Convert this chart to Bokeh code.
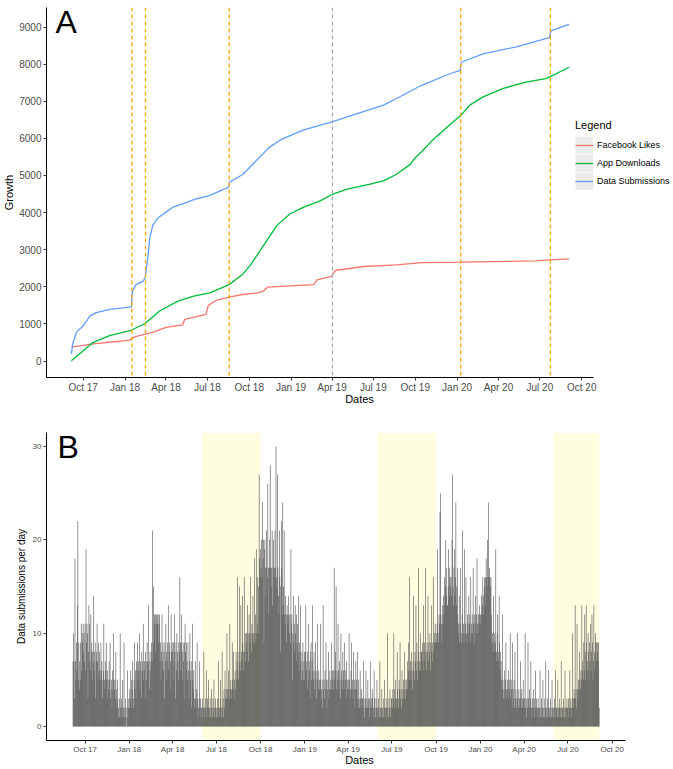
import pandas as pd
from bokeh.plotting import figure
from bokeh.models import (Range1d, FixedTicker, DatetimeTickFormatter, Span,
                          BoxAnnotation, Label, Legend, LegendItem, ColumnDataSource)
from bokeh.layouts import column
from bokeh.embed import file_html
from bokeh.resources import INLINE

FONT = "Liberation Sans"

# ---------------- Panel A : cumulative growth ----------------
fb_dates = ["2017-09-05", "2017-10-23", "2017-12-20", "2018-01-12", "2018-01-20",
            "2018-02-01", "2018-03-03", "2018-04-01", "2018-05-08", "2018-05-12",
            "2018-06-28", "2018-07-03", "2018-07-20", "2018-08-18", "2018-09-16",
            "2018-10-19", "2018-11-01", "2018-11-10", "2019-02-20", "2019-02-27",
            "2019-03-31", "2019-04-08", "2019-06-09", "2019-08-21", "2019-10-15",
            "2020-01-09", "2020-06-22", "2020-07-24", "2020-09-03"]
fb_likes = [373, 461, 533, 568, 640, 684, 772, 905, 977, 1120, 1260, 1500, 1633,
            1723, 1793, 1837, 1880, 1990, 2059, 2190, 2280, 2440, 2548, 2591, 2650,
            2663, 2698, 2724, 2751]

app_dates = ["2017-09-05", "2017-10-23", "2017-11-28", "2018-01-12", "2018-02-14",
             "2018-03-18", "2018-04-27", "2018-06-01", "2018-07-06", "2018-08-18",
             "2018-09-16", "2018-10-04", "2018-11-02", "2018-12-01", "2018-12-30",
             "2019-01-29", "2019-03-07", "2019-04-03", "2019-05-04", "2019-06-24",
             "2019-07-23", "2019-08-21", "2019-09-20", "2019-10-01", "2019-10-15",
             "2019-11-09", "2019-12-16", "2020-01-10", "2020-01-29", "2020-02-27",
             "2020-04-10", "2020-05-31", "2020-07-14", "2020-07-25", "2020-09-03"]
app_downloads = [10, 506, 684, 817, 1012, 1350, 1616, 1749, 1837, 2059, 2330, 2591,
                 3124, 3656, 3968, 4146, 4322, 4500, 4634, 4767, 4855, 5033, 5300,
                 5480, 5640, 5965, 6365, 6631, 6897, 7118, 7342, 7518, 7608, 7670, 7917]

sub_dates = ["2017-09-05", "2017-09-08", "2017-09-16", "2017-10-01", "2017-10-16",
             "2017-10-30", "2017-11-28", "2018-01-15", "2018-01-17", "2018-01-25",
             "2018-02-09", "2018-02-14", "2018-02-20", "2018-02-24", "2018-03-03",
             "2018-03-14", "2018-04-01", "2018-04-16", "2018-05-08", "2018-06-06",
             "2018-07-05", "2018-08-16", "2018-08-19", "2018-09-16", "2018-10-12",
             "2018-11-13", "2018-12-09", "2019-01-29", "2019-04-03", "2019-05-18",
             "2019-07-23", "2019-08-21", "2019-10-15", "2019-12-16", "2020-01-08",
             "2020-01-10", "2020-02-27", "2020-05-10", "2020-07-22", "2020-07-25",
             "2020-09-03"]
sub_total = [195, 460, 772, 950, 1217, 1305, 1393, 1457, 1883, 2060, 2148, 2237,
             2770, 3300, 3656, 3853, 4013, 4146, 4234, 4367, 4455, 4679, 4828, 5020,
             5345, 5744, 5965, 6231, 6453, 6631, 6897, 7075, 7430, 7741, 7829, 8051,
             8274, 8468, 8716, 8894, 9073]

event_dates = ["2018-01-16", "2018-02-15", "2018-08-18", "2020-01-09", "2020-07-24"]
review_dates = ["2019-04-02"]

quarter_ticks = ["2017-10-01", "2018-01-01", "2018-04-01", "2018-07-01", "2018-10-01",
                 "2019-01-01", "2019-04-01", "2019-07-01", "2019-10-01", "2020-01-01",
                 "2020-04-01", "2020-07-01", "2020-10-01"]
growth_ticks = [0, 1000, 2000, 3000, 4000, 5000, 6000, 7000, 8000, 9000]
series_names = ["Facebook Likes", "App Downloads", "Data Submissions"]
series_colors = ["#F8766D", "#00BA38", "#619CFF"]

# ---------------- Panel B : daily submissions ----------------
sep17 = [7, 10, 7, 3, 18, 7, 5, 9, 6, 13, 22, 5, 9, 4, 7, 5, 9, 11, 6, 10, 9, 11, 8, 10, 7]
oct17 = [11, 6, 19, 9, 11, 10, 3, 8, 13, 11, 7, 6, 12, 8, 9, 5, 8, 7, 14, 8, 6, 9, 3, 7, 8, 11, 7, 5, 9, 6, 8]
nov17 = [6, 5, 9, 6, 7, 3, 5, 6, 11, 5, 4, 7, 6, 9, 5, 3, 6, 5, 4, 7, 5, 9, 3, 4, 5, 2, 6, 4, 10, 5]
dec17 = [4, 5, 3, 8, 4, 2, 5, 3, 1, 2, 3, 1, 10, 2, 1, 3, 2, 5, 1, 2, 9, 1, 2, 3, 1, 0, 2, 6, 1, 2, 3]
jan18 = [2, 4, 3, 6, 2, 5, 4, 7, 3, 2, 5, 9, 4, 6, 3, 7, 6, 9, 5, 7, 6, 10, 4, 7, 6, 3, 8, 6, 7, 11, 5]
feb18 = [6, 7, 3, 8, 7, 5, 9, 7, 6, 13, 7, 4, 8, 6, 7, 9, 8, 21, 7, 15, 9, 12, 11, 12, 8, 12, 11, 12]
mar18 = [11, 12, 9, 11, 12, 7, 9, 5, 8, 12, 7, 9, 6, 8, 3, 9, 7, 11, 8, 5, 9, 7, 13, 6, 8, 9, 4, 7, 12, 8, 9]
apr18 = [8, 5, 9, 7, 12, 8, 3, 9, 6, 10, 8, 7, 5, 9, 8, 16, 9, 6, 9, 12, 8, 5, 9, 7, 3, 9, 11, 8, 6, 9]
may18 = [7, 5, 9, 6, 3, 7, 10, 5, 6, 2, 7, 11, 5, 4, 6, 3, 2, 7, 3, 2, 4, 9, 3, 1, 2, 3, 7, 2, 3, 1, 2]
jun18 = [2, 3, 1, 2, 8, 2, 1, 3, 2, 6, 1, 2, 3, 2, 5, 1, 2, 3, 1, 2, 4, 2, 1, 3, 2, 5, 1, 2, 3, 2]
jul18 = [1, 2, 3, 1, 7, 2, 1, 2, 3, 5, 2, 1, 8, 2, 3, 1, 4, 2, 6, 3, 4, 3, 10, 4, 3, 6, 4, 3, 11, 4, 5]
aug18 = [4, 3, 9, 5, 4, 8, 3, 5, 6, 4, 8, 5, 7, 16, 6, 5, 8, 15, 7, 6, 13, 8, 7, 14, 9, 6, 8, 16, 8, 10, 7]
sep18 = [9, 10, 8, 13, 10, 7, 12, 10, 9, 16, 10, 8, 11, 10, 14, 9, 10, 18, 10, 12, 9, 19, 10, 11, 16, 10, 15, 27, 18, 16]
oct18 = [19, 17, 20, 16, 24, 18, 20, 9, 19, 20, 17, 14, 21, 17, 16, 26, 17, 12, 17, 20, 28, 17, 15, 17, 21, 13, 17, 20, 16, 17, 21]
nov18 = [17, 30, 16, 15, 27, 17, 14, 12, 21, 16, 8, 15, 22, 17, 12, 24, 13, 15, 21, 12, 11, 14, 12, 9, 13, 12, 11, 14, 12, 10]
dec18 = [12, 9, 19, 11, 12, 5, 10, 14, 9, 11, 8, 13, 10, 7, 12, 9, 11, 8, 14, 6, 9, 8, 13, 7, 5, 8, 6, 9, 5, 7, 8]
jan19 = [5, 8, 13, 6, 7, 4, 8, 5, 11, 7, 6, 3, 8, 9, 5, 7, 13, 6, 5, 8, 4, 6, 9, 5, 3, 6, 11, 5, 4, 6, 5]
feb19 = [4, 5, 11, 3, 4, 5, 2, 13, 4, 5, 3, 6, 4, 9, 5, 2, 4, 5, 8, 3, 4, 6, 4, 5, 9, 4, 6, 5]
mar19 = [6, 4, 17, 5, 6, 8, 15, 4, 6, 5, 11, 6, 4, 7, 5, 3, 10, 6, 5, 4, 8, 6, 5, 9, 4, 6, 5, 3, 7, 5, 4]
apr19 = [5, 4, 10, 5, 3, 4, 6, 9, 4, 5, 3, 8, 4, 5, 2, 4, 7, 5, 4, 8, 3, 2, 5, 3, 2, 6, 3, 2, 4, 3]
may19 = [3, 2, 7, 3, 1, 2, 3, 6, 2, 3, 2, 5, 3, 2, 1, 3, 7, 2, 3, 2, 4, 3, 1, 2, 6, 3, 2, 1, 3, 2, 5]
jun19 = [2, 1, 3, 2, 1, 7, 2, 1, 2, 4, 1, 2, 3, 1, 2, 5, 1, 2, 3, 2, 1, 10, 2, 1, 3, 2, 4, 1, 2, 3]
jul19 = [3, 2, 4, 3, 10, 2, 4, 3, 5, 2, 3, 8, 4, 3, 2, 5, 4, 9, 3, 4, 2, 6, 3, 4, 5, 3, 8, 4, 3, 5, 4]
aug19 = [5, 7, 4, 6, 9, 5, 16, 6, 7, 5, 8, 6, 4, 7, 14, 6, 5, 8, 7, 13, 6, 9, 5, 7, 17, 8, 6, 7, 10, 6, 8]
sep19 = [8, 7, 9, 6, 13, 8, 9, 7, 17, 8, 6, 9, 8, 14, 7, 9, 8, 10, 6, 9, 13, 8, 7, 9, 16, 8, 10, 9, 11, 9]
oct19 = [10, 9, 11, 19, 10, 9, 12, 11, 23, 25, 12, 11, 9, 13, 11, 14, 12, 16, 13, 15, 20, 14, 17, 13, 13, 15, 19, 14, 17, 16, 15]
nov19 = [16, 14, 20, 27, 15, 13, 17, 19, 14, 16, 24, 13, 15, 17, 12, 11, 10, 14, 9, 11, 17, 10, 9, 12, 21, 10, 11, 9, 19, 10]
dec19 = [11, 16, 10, 9, 12, 11, 10, 14, 11, 12, 9, 16, 10, 11, 12, 10, 17, 11, 9, 12, 11, 14, 10, 12, 18, 11, 10, 12, 11, 13, 12]
jan20 = [12, 11, 14, 12, 13, 16, 12, 14, 15, 16, 13, 16, 18, 16, 15, 20, 16, 24, 16, 17, 16, 15, 16, 12, 9, 10, 8, 14, 9, 10, 8]
feb20 = [9, 19, 8, 7, 10, 12, 8, 7, 14, 9, 6, 8, 7, 5, 4, 12, 5, 3, 4, 6, 3, 5, 9, 4, 3, 5, 4, 6, 3]
mar20 = [5, 4, 10, 3, 5, 4, 2, 9, 4, 3, 5, 2, 8, 3, 4, 2, 3, 10, 3, 2, 4, 3, 2, 7, 3, 2, 4, 3, 2, 5, 3]
apr20 = [2, 3, 10, 2, 3, 1, 3, 2, 9, 3, 2, 4, 2, 3, 7, 2, 1, 3, 2, 4, 2, 3, 1, 2, 6, 2, 3, 1, 2, 3]
may20 = [2, 1, 2, 6, 1, 2, 3, 1, 2, 5, 1, 2, 1, 3, 2, 7, 1, 2, 3, 1, 2, 6, 1, 2, 1, 3, 2, 1, 5, 2, 1]
jun20 = [2, 1, 3, 2, 6, 1, 2, 2, 1, 5, 2, 1, 2, 3, 1, 2, 7, 1, 2, 2, 1, 3, 2, 1, 6, 2, 1, 2, 3, 2]
jul20 = [2, 3, 1, 2, 6, 2, 3, 2, 1, 3, 10, 3, 2, 4, 3, 13, 3, 4, 2, 11, 4, 3, 5, 4, 8, 5, 4, 6, 5, 13, 6]
aug20 = [7, 5, 9, 6, 12, 8, 5, 13, 9, 7, 6, 10, 8, 5, 9, 7, 11, 6, 8, 12, 9, 5, 7, 13, 8, 6, 10, 9, 7, 9, 8]
sep20 = [9, 7, 9, 2]

month_starts = ["2017-09-06", "2017-10-01", "2017-11-01", "2017-12-01", "2018-01-01",
                "2018-02-01", "2018-03-01", "2018-04-01", "2018-05-01", "2018-06-01",
                "2018-07-01", "2018-08-01", "2018-09-01", "2018-10-01", "2018-11-01",
                "2018-12-01", "2019-01-01", "2019-02-01", "2019-03-01", "2019-04-01",
                "2019-05-01", "2019-06-01", "2019-07-01", "2019-08-01", "2019-09-01",
                "2019-10-01", "2019-11-01", "2019-12-01", "2020-01-01", "2020-02-01",
                "2020-03-01", "2020-04-01", "2020-05-01", "2020-06-01", "2020-07-01",
                "2020-08-01", "2020-09-01"]
month_blocks = [sep17, oct17, nov17, dec17, jan18, feb18, mar18, apr18, may18, jun18,
                jul18, aug18, sep18, oct18, nov18, dec18, jan19, feb19, mar19, apr19,
                may19, jun19, jul19, aug19, sep19, oct19, nov19, dec19, jan20, feb20,
                mar20, apr20, may20, jun20, jul20, aug20, sep20]

summer_starts = ["2018-06-01", "2019-06-01", "2020-06-01"]
summer_ends = ["2018-10-01", "2019-10-01", "2020-09-04 12:00"]
per_day_ticks = [0, 10, 20, 30]


def ms(d):
    return pd.Timestamp(d).timestamp() * 1000.0


DAY = 86400000.0
W = 672
FRAME_LEFT = 43                  # both frames share the same left/right edges
FRAME_W = W - FRAME_LEFT         # frames reach the page edge; axes are bounded


def style_axes(p, tick_size, ylabel, ylabel_size, ylabel_standoff):
    for ax in (p.xaxis[0], p.yaxis[0]):
        ax.axis_line_color = "black"
        ax.axis_line_width = 1
        ax.major_tick_line_color = "#333333"
        ax.major_tick_out = 3
        ax.major_tick_in = 0
        ax.minor_tick_out = 0
        ax.minor_tick_in = 0
        ax.major_label_text_font = FONT
        ax.major_label_text_font_size = tick_size
        ax.major_label_text_color = "#4D4D4D"
        ax.major_label_standoff = 2
        ax.axis_label_text_font = FONT
        ax.axis_label_text_font_style = "normal"
        ax.axis_label_text_color = "black"
    p.xaxis.axis_label = "Dates"
    p.xaxis.axis_label_text_font_size = "11px"
    p.xaxis.axis_label_standoff = -3
    p.xaxis.major_label_standoff = 1
    p.yaxis.axis_label = ylabel
    p.yaxis.axis_label_text_font_size = ylabel_size
    p.yaxis.axis_label_standoff = ylabel_standoff
    p.xgrid.visible = False
    p.ygrid.visible = False
    p.outline_line_color = None
    p.xaxis.formatter = DatetimeTickFormatter(
        days="%b %y", months="%b %y", years="%b %y", hours="%b %y",
        minutes="%b %y", seconds="%b %y", milliseconds="%b %y",
        minsec="%b %y", hourmin="%b %y")
    p.xaxis.ticker = FixedTicker(ticks=[ms(d) for d in quarter_ticks])


# ---------- figure A ----------
all_dates = [ms(d) for d in fb_dates + app_dates + sub_dates]
x0, x1 = min(all_dates), max(all_dates)
xs = x1 - x0
gx0, gx1 = x0 - 0.05 * xs, x1 + 0.05 * xs          # ggplot-style panel limits
all_vals = fb_likes + app_downloads + sub_total
y0, y1 = min(all_vals), max(all_vals)
ys = y1 - y0
A_PANEL_RIGHT = 593
extA = (gx1 - gx0) * FRAME_W / (A_PANEL_RIGHT - FRAME_LEFT)

pA = figure(width=W, height=407, output_backend="svg", toolbar_location=None,
            x_axis_type="datetime",
            x_range=Range1d(gx0, gx0 + extA),
            y_range=Range1d(y0 - 0.05 * ys, y1 + 0.05 * ys),
            min_border_left=FRAME_LEFT, min_border_right=0, min_border_top=7,
            min_border_bottom=10, background_fill_color="white",
            border_fill_color="white")
style_axes(pA, "10px", "Growth", "11px", 1)
pA.xaxis.bounds = (gx0, gx1)
pA.yaxis.ticker = FixedTicker(ticks=growth_ticks)

for d in event_dates:
    pA.add_layout(Span(location=ms(d), dimension="height", line_color="#FFA500",
                       line_dash="4 3", line_width=1.3))
for d in review_dates:
    pA.add_layout(Span(location=ms(d), dimension="height", line_color="#AAAAAA",
                       line_dash="4 3", line_width=1.3))

series = [(fb_dates, fb_likes), (app_dates, app_downloads), (sub_dates, sub_total)]
line_renderers = []
for (dts, vals), col in zip(series, series_colors):
    src = ColumnDataSource(dict(x=pd.to_datetime(dts), y=vals))
    line_renderers.append(pA.line("x", "y", source=src, line_color=col,
                                  line_width=1.3))

# single-point (invisible) thick grey line: the legend draws it as the key box
key_bg = pA.line(x=[ms(fb_dates[0])], y=[fb_likes[0]], line_color="#EBEBEB",
                 line_width=18, line_cap="butt")

items = [LegendItem(label=n, renderers=[key_bg, r])
         for n, r in zip(series_names, line_renderers)]
legend = Legend(items=items, location=(529, 187), title="Legend",
                title_text_font=FONT, title_text_font_size="11px",
                title_text_font_style="normal", title_text_color="black",
                title_standoff=5,
                label_text_font=FONT, label_text_font_size="9px",
                label_text_color="black", label_height=18,
                label_standoff=4, glyph_width=18, glyph_height=18, spacing=0,
                padding=0, margin=0, background_fill_alpha=0,
                border_line_color=None)
pA.add_layout(legend)

pA.add_layout(Label(x=9, y=356, x_units="screen", y_units="screen", text="A",
                    text_font=FONT, text_font_size="32px", text_color="black",
                    text_align="left", text_baseline="alphabetic"))

# ---------- figure B ----------
day_dates, day_counts = [], []
for start, vals in zip(month_starts, month_blocks):
    s = pd.Timestamp(start)
    for i, v in enumerate(vals):
        day_dates.append(s + pd.Timedelta(days=i))
        day_counts.append(v)

b0 = ms(day_dates[0]) - 0.45 * DAY
b1 = ms(day_dates[-1]) + 0.45 * DAY
bs = b1 - b0
gb0, gb1 = b0 - 0.05 * bs, b1 + 0.05 * bs
B_PANEL_RIGHT = 625
extB = (gb1 - gb0) * FRAME_W / (B_PANEL_RIGHT - FRAME_LEFT)
cmax = max(day_counts)

pB = figure(width=W, height=361, output_backend="svg", toolbar_location=None,
            x_axis_type="datetime",
            x_range=Range1d(gb0, gb0 + extB),
            y_range=Range1d(-0.05 * cmax, cmax * 1.05),
            min_border_left=FRAME_LEFT, min_border_right=0, min_border_top=25,
            min_border_bottom=10, background_fill_color="white",
            border_fill_color="white")
style_axes(pB, "8px", "Data submissions per day", "10px", 3)
pB.xaxis.bounds = (gb0, gb1)
pB.yaxis.ticker = FixedTicker(ticks=per_day_ticks)

for s, e in zip(summer_starts, summer_ends):
    pB.add_layout(BoxAnnotation(left=ms(s), right=ms(e), fill_color="#FFFDE0",
                                fill_alpha=1, line_color=None, level="underlay"))

srcB = ColumnDataSource(dict(x=day_dates, top=day_counts))
pB.vbar(x="x", top="top", bottom=0, width=1.3 * DAY, source=srcB,
        fill_color="#555555", line_color=None)

pB.add_layout(Label(x=11, y=294, x_units="screen", y_units="screen", text="B",
                    text_font=FONT, text_font_size="32px", text_color="black",
                    text_align="left", text_baseline="alphabetic"))

layout = column(pA, pB, spacing=0)
open("out.html", "w").write(file_html(layout, INLINE))
